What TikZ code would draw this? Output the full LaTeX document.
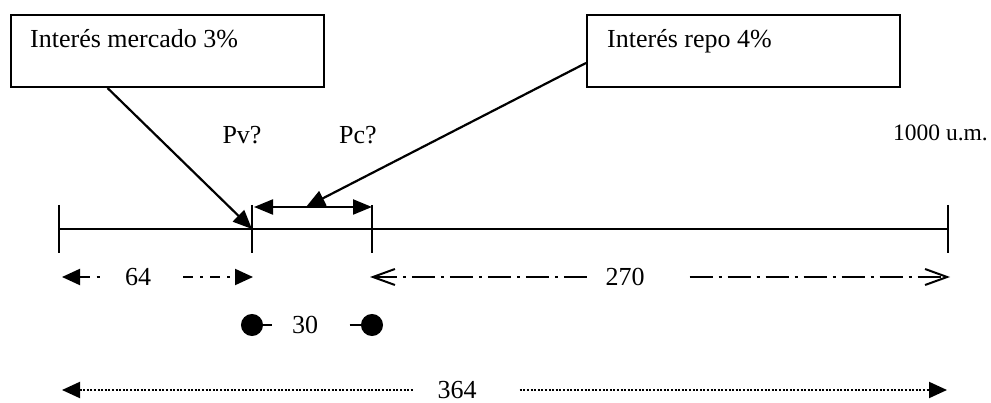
\documentclass[tikz,border=0pt]{standalone}
\usepackage{fontspec}
\setmainfont{Liberation Serif}
\usetikzlibrary{arrows.meta, positioning, calc}

\begin{document}
\begin{tikzpicture}[
    x=1pt, y=-1pt,
    box/.style={draw, line width=2pt, minimum width=313pt, minimum height=72pt, inner sep=0pt},
    lbl/.style={font=\fontsize{26}{30}\selectfont, inner sep=0pt},
    tri/.style={-{Triangle[length=19pt, width=16pt]}, line width=2.2pt},
    dda/.style={line width=2pt, dash pattern=on 10pt off 7pt on 3pt off 7pt},
    ddb/.style={line width=2pt, dash pattern=on 23pt off 6pt on 3pt off 6pt},
    ddc/.style={line width=2pt, dash pattern=on 2pt off 1.6pt}
]
\useasboundingbox (0,0) rectangle (991,403);
% the two rate boxes
\node[box] (mbox) at (167,51) {};
\node[box] (rbox) at (743.5,51) {};
\node[lbl, anchor=base west] (mtxt) at (30,48) {Interés mercado 3\%};
\node[lbl, anchor=base west] (rtxt) at (607,48) {Interés repo 4\%};
% prices above the line
\node[lbl] (pv) at (242,135) {Pv?};
\node[lbl] (pc) at (358,135) {Pc?};
\node[lbl, font=\fontsize{23.5}{28}\selectfont, anchor=base east] (nom) at (988,141) {1000 u.m.};
% time line with its four marks
\coordinate (t0) at (59,229);
\coordinate (t1) at (252,229);
\coordinate (t2) at (372,229);
\coordinate (t3) at (948,229);
\draw[line width=2.2pt] (t0) -- (t3);
\foreach \p in {t0,t1,t2,t3}
    \draw[line width=2.2pt] ($(\p)+(0,-24)$) -- ($(\p)+(0,24)$);
% repo span between Pv and Pc
\coordinate (rl) at (254,207);
\coordinate (rr) at (372,207);
\coordinate (hit) at (306,207);
\draw[line width=2.2pt, {Triangle[length=19pt, width=15pt]}-{Triangle[length=19pt, width=15pt]}] (rl) -- (rr);
% pointers from the boxes
\draw[tri] ($(mbox.south west)+(98,0)$) -- (t1);
\draw[tri] ($(rbox.west)+(0,12)$) -- (hit);
% 64 days
\node[lbl] (n64) at (138,277) {64};
\coordinate (a64) at (62,277);
\coordinate (b64) at (253,277);
\draw[dda, {Triangle[length=18pt, width=16pt]}-, shorten >=25pt] (a64) -- (n64);
\draw[dda, -{Triangle[length=18pt, width=16pt]}, shorten <=32pt] (n64) -- (b64);
% 270 days
\node[lbl] (n270) at (625,277) {270};
\coordinate (a270) at (370,277);
\coordinate (b270) at (950,277);
\draw[ddb, {Straight Barb[length=22pt, width=16pt, line width=2pt]}-, shorten >=18pt] (a270) -- (n270);
\draw[ddb, -{Straight Barb[length=22pt, width=16pt, line width=2pt]}, shorten <=45pt] (n270) -- (b270);
% 30 days
\node[lbl] (n30) at (305,325) {30};
\coordinate (a30) at (241,325);
\coordinate (b30) at (383,325);
\draw[line width=2pt, {Circle[length=22pt]}-, shorten >=19.5pt] (a30) -- (n30);
\draw[line width=2pt, -{Circle[length=22pt]}, shorten <=31.5pt] (n30) -- (b30);
% 364 days
\node[lbl] (n364) at (457,390) {364};
\coordinate (a364) at (62,390);
\coordinate (b364) at (947,390);
\draw[ddc, {Triangle[length=18pt, width=16pt]}-, shorten >=24pt] (a364) -- (n364);
\draw[ddc, -{Triangle[length=18pt, width=16pt]}, shorten <=43pt] (n364) -- (b364);
\end{tikzpicture}
\end{document}
